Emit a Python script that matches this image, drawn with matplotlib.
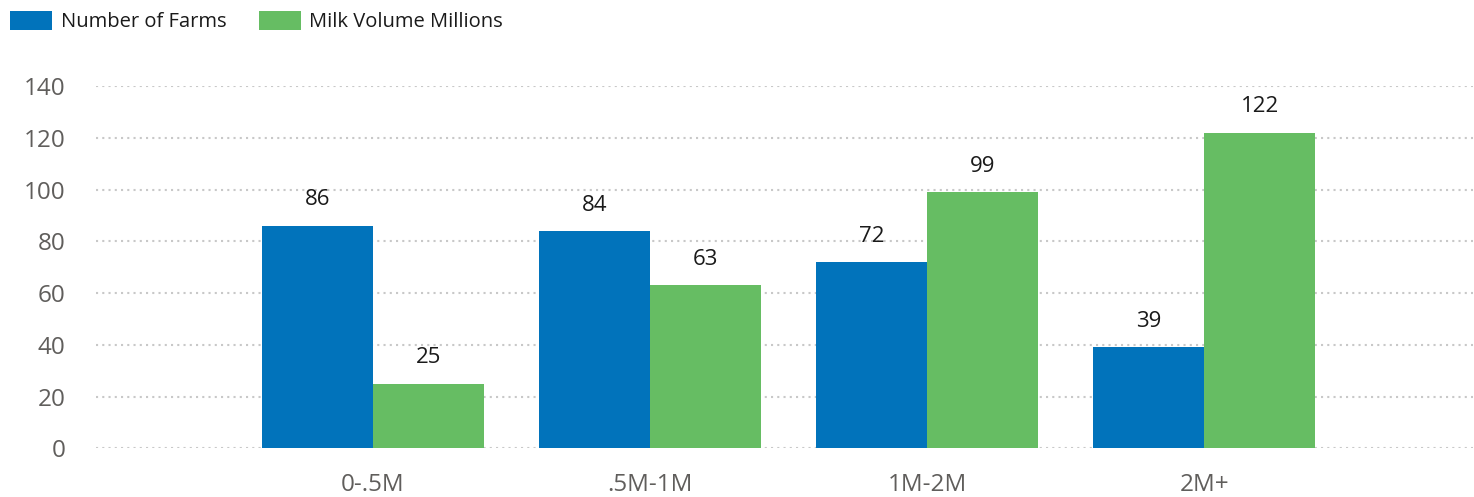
import matplotlib
matplotlib.use("Agg")
import matplotlib.pyplot as plt
import numpy as np

categories = ["0-.5M", ".5M-1M", "1M-2M", "2M+"]
farms = [86, 84, 72, 39]
milk = [25, 63, 99, 122]
series_names = ["Number of Farms", "Milk Volume Millions"]
yticks = [0, 20, 40, 60, 80, 100, 120, 140]

plt.rcParams['font.family'] = ['Open Sans', 'DejaVu Sans']

W, H = 1474, 497
fig = plt.figure(figsize=(W / 100, H / 100), dpi=100)
ax = fig.add_axes([96 / W, (H - 448.3) / H, (1473 - 96) / W, (448.3 - 86) / H])

blue = "#0173BB"
green = "#66BD63"
x = np.arange(len(categories))
bw = 0.4
b1 = ax.bar(x - bw / 2, farms, bw, color=blue, label=series_names[0], zorder=3)
b2 = ax.bar(x + bw / 2, milk, bw, color=green, label=series_names[1], zorder=3)

ax.bar_label(b1, padding=11, fontsize=16, color="#1a1a1a")
ax.bar_label(b2, padding=11, fontsize=16, color="#1a1a1a")

ax.set_xlim(-1, 3.97)
ax.set_ylim(0, 140)
ax.set_yticks(yticks)
ax.set_xticks(x)
ax.set_xticklabels(categories)
ax.yaxis.grid(True, linestyle=(0, (1, 2)), color="#C8C8C8", linewidth=1.5, zorder=0)
ax.set_axisbelow(True)
for s in ax.spines.values():
    s.set_visible(False)
ax.tick_params(axis='both', length=0, labelsize=17.5, colors="#605E5C")
ax.tick_params(axis='y', pad=22)
ax.tick_params(axis='x', pad=18)
for lbl in ax.get_yticklabels():
    lbl.set_clip_on(False)

fs = 14.5
leg = ax.legend(loc="upper left", bbox_to_anchor=(10 / W, 1 - 11 / H),
                bbox_transform=fig.transFigure, ncol=2, frameon=False,
                fontsize=fs, handlelength=2.1, handleheight=1.07,
                handletextpad=0.42, columnspacing=1.6, borderpad=0,
                borderaxespad=0)
for t in leg.get_texts():
    t.set_color("#1a1a1a")

fig.savefig("out.png", dpi=100)
